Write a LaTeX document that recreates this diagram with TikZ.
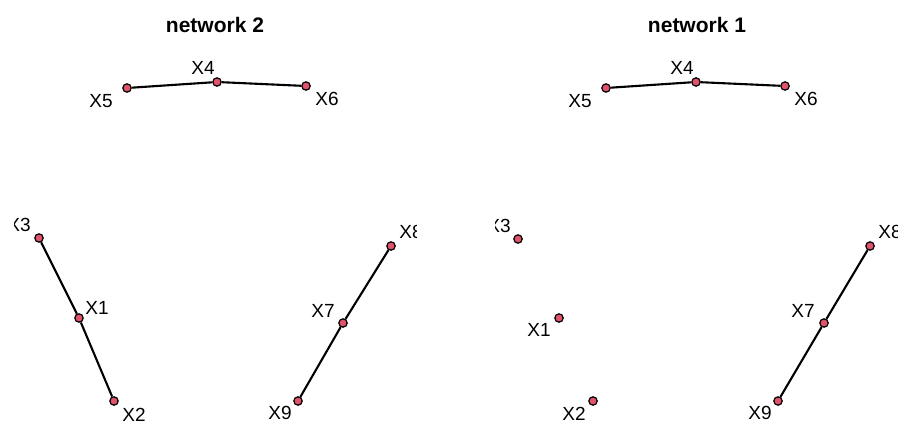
\documentclass[tikz,border=0pt]{standalone}
\usepackage{fontspec}
\newfontfamily\plainsans{Liberation Sans}
\usetikzlibrary{positioning}
\definecolor{vred}{HTML}{DF536B}

\begin{document}
\begin{tikzpicture}[
    x=1pt, y=-1pt,
    vertex/.style={circle, draw=black, fill=vred, line width=1.2pt, inner sep=0pt, minimum size=8.4pt},
    lbl/.style={inner sep=0pt, anchor=center, font=\plainsans\fontsize{19}{22}\selectfont},
    heading/.style={inner sep=0pt, anchor=center, font=\plainsans\fontsize{21}{24}\selectfont\bfseries},
    link/.style={draw=black, line width=2.1pt}
]
\useasboundingbox (0,0) rectangle (901,425);

% Titles
\node[heading] (t2) at (215, 25) {network 2};
\node[heading] (t1) at (697, 25) {network 1};

% Left panel: network 2
\begin{scope}
\clip (14,0) rectangle (416,425);
\node[vertex] (a5) at (127, 88) {};
\node[vertex] (a4) at (217, 82) {};
\node[vertex] (a6) at (306, 86) {};
\node[vertex] (a3) at (39, 238) {};
\node[vertex] (a1) at (79, 318) {};
\node[vertex] (a2) at (114, 401) {};
\node[vertex] (a8) at (391, 246) {};
\node[vertex] (a7) at (343, 323) {};
\node[vertex] (a9) at (298, 401) {};

\draw[link] (a5) -- (a4);
\draw[link] (a4) -- (a6);
\draw[link] (a3) -- (a1);
\draw[link] (a1) -- (a2);
\draw[link] (a8) -- (a7);
\draw[link] (a7) -- (a9);

\node[lbl] (la5) at (101, 101) {X5};
\node[lbl] (la4) at (203, 68) {X4};
\node[lbl] (la6) at (327, 99) {X6};
\node[lbl] (la3) at (19, 225) {X3};
\node[lbl] (la1) at (97, 308) {X1};
\node[lbl] (la2) at (134, 415) {X2};
\node[lbl] (la8) at (411, 232) {X8};
\node[lbl] (la7) at (323, 311) {X7};
\node[lbl] (la9) at (280, 413) {X9};
\end{scope}

% Right panel: network 1
\begin{scope}
\clip (495,0) rectangle (897,425);
\node[vertex] (b5) at (606, 88) {};
\node[vertex] (b4) at (696, 82) {};
\node[vertex] (b6) at (785, 86) {};
\node[vertex] (b3) at (518, 239) {};
\node[vertex] (b1) at (559, 318) {};
\node[vertex] (b2) at (593, 401) {};
\node[vertex] (b8) at (870, 246) {};
\node[vertex] (b7) at (824, 323) {};
\node[vertex] (b9) at (778, 401) {};

\draw[link] (b5) -- (b4);
\draw[link] (b4) -- (b6);
\draw[link] (b8) -- (b7);
\draw[link] (b7) -- (b9);

\node[lbl] (lb5) at (580, 101) {X5};
\node[lbl] (lb4) at (682, 68) {X4};
\node[lbl] (lb6) at (806, 99) {X6};
\node[lbl] (lb3) at (499, 226) {X3};
\node[lbl] (lb1) at (539, 330) {X1};
\node[lbl] (lb2) at (574, 414) {X2};
\node[lbl] (lb8) at (890, 232) {X8};
\node[lbl] (lb7) at (803, 311) {X7};
\node[lbl] (lb9) at (760, 413) {X9};
\end{scope}

\end{tikzpicture}
\end{document}
